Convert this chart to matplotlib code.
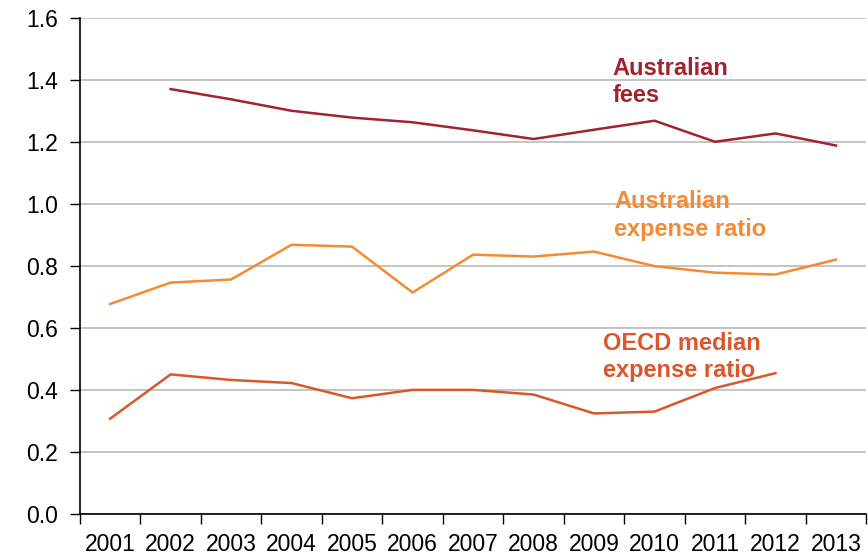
import matplotlib.pyplot as plt
import numpy as np

plt.rcParams['font.family'] = ['Liberation Sans', 'DejaVu Sans']

# datos
anios = ["2001", "2002", "2003", "2004", "2005", "2006", "2007",
         "2008", "2009", "2010", "2011", "2012", "2013"]
comisiones_aus = [np.nan, 1.370, 1.337, 1.300, 1.278, 1.263, 1.237,
                  1.209, 1.239, 1.268, 1.200, 1.227, 1.188]
gasto_aus = [0.677, 0.746, 0.756, 0.868, 0.862, 0.714, 0.836,
             0.830, 0.846, 0.799, 0.778, 0.772, 0.820]
gasto_ocde = [0.307, 0.450, 0.432, 0.422, 0.373, 0.400, 0.400,
              0.385, 0.324, 0.330, 0.406, 0.454, np.nan]

c_fees = "#A0232F"
c_aus = "#F58A32"
c_oecd = "#D9572A"

fig = plt.figure(figsize=(8.68, 5.55), dpi=100)
ax = fig.add_axes([0.092, 0.074, 0.906, 0.894])

x = np.arange(len(anios))
ax.plot(x, comisiones_aus, color=c_fees, lw=1.8)
ax.plot(x, gasto_aus, color=c_aus, lw=1.8)
ax.plot(x, gasto_ocde, color=c_oecd, lw=1.8)

ax.set_xlim(-0.5, len(anios) - 0.5)
ax.set_ylim(0, 1.6)
ax.set_yticks(np.arange(0, 1.61, 0.2))
ax.set_yticklabels([f"{v:.1f}" for v in np.arange(0, 1.61, 0.2)])
ax.yaxis.grid(True, color="#C4C4C4", lw=1.4)
ax.set_axisbelow(True)

ax.set_xticks(x)
ax.set_xticklabels(anios)
ax.set_xticks(np.arange(-0.5, len(anios), 1), minor=True)
ax.tick_params(axis="x", which="major", length=0, pad=14, labelsize=16.5)
ax.tick_params(axis="x", which="minor", length=7, width=1, direction="out")
ax.tick_params(axis="y", length=7, width=1, direction="out", labelsize=16.5, pad=9)

for s in ["top", "right"]:
    ax.spines[s].set_visible(False)
ax.spines["left"].set_linewidth(1.2)
ax.spines["bottom"].set_linewidth(1.2)

ax.text(8.31, 1.475, "Australian\nfees", color=c_fees, fontsize=17,
        fontweight="bold", va="top", ha="left", linespacing=1.25)
ax.text(8.33, 1.043, "Australian\nexpense ratio", color=c_aus, fontsize=17,
        fontweight="bold", va="top", ha="left", linespacing=1.25)
ax.text(8.15, 0.588, "OECD median\nexpense ratio", color=c_oecd, fontsize=17,
        fontweight="bold", va="top", ha="left", linespacing=1.25)

plt.savefig("out.png")
